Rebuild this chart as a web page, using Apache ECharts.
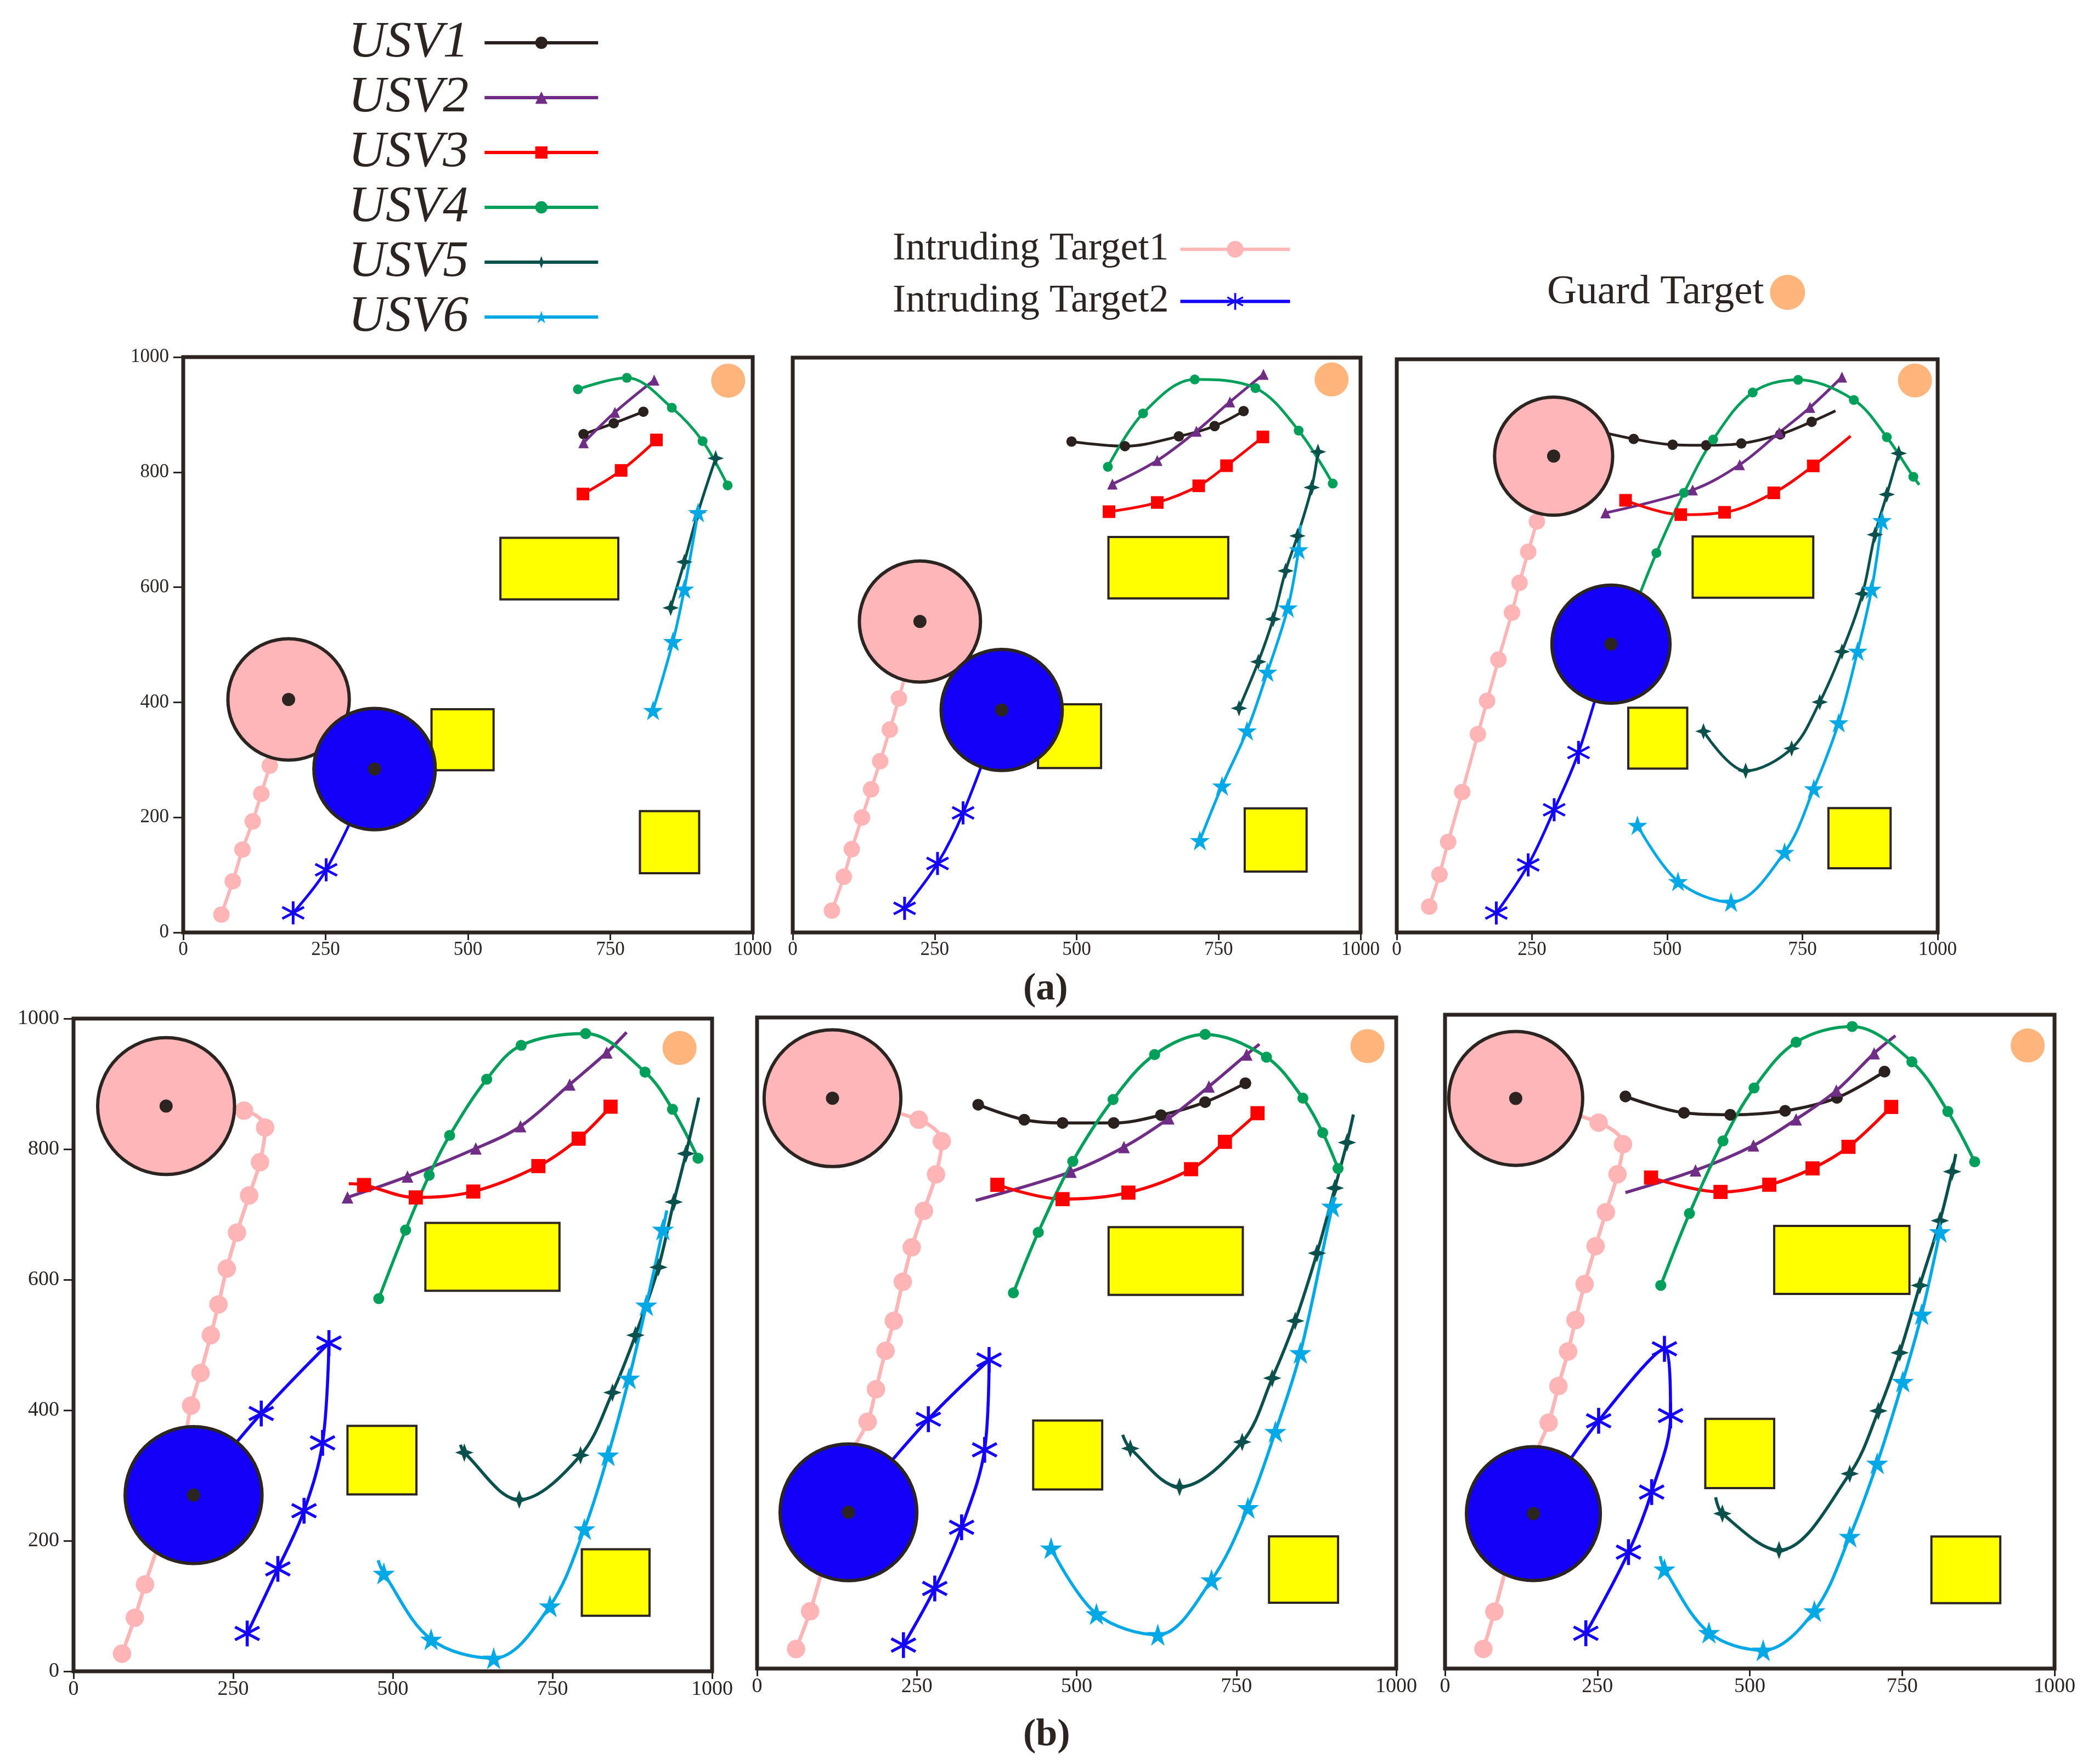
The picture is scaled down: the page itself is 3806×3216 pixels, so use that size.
<!DOCTYPE html>
<html><head><meta charset="utf-8">
<script src="https://cdn.jsdelivr.net/npm/echarts@6.0.0/dist/echarts.min.js"></script>
<style>html,body{margin:0;padding:0;background:#fff}#c{width:3806px;height:3216px}</style>
</head><body><div id="c"></div>
<script>
// ---------------- DATA ----------------
const X_TICKS = [0, 250, 500, 750, 1000];
const Y_TICKS = [0, 200, 400, 600, 800, 1000];
const USV_NAMES = ['USV1', 'USV2', 'USV3', 'USV4', 'USV5', 'USV6'];
const TARGET_NAMES = ['Intruding Target1', 'Intruding Target2'];
const GUARD_NAME = 'Guard Target';
const PANEL_LABELS = ['a', 'b'];
// a third value of 0 marks a path point drawn without a marker
// ---- panel (a) 1 ----
const a1_usv1 = [[703,866],[756,885],[808,905]];
const a1_usv2 = [[703,851],[758,904],[827,960]];
const a1_usv3 = [[702,762],[769,803],[831,856]];
const a1_usv4 = [[693,944],[779,964],[858,912],[912,854],[956,777]];
const a1_usv5 = [[856,564],[880,644],[904,730],[935,824]];
const a1_usv6 = [[825,386],[860,506],[880,597],[904,730]];
const a1_int1 = [[67,31],[87,89],[104,144],[122,193],[137,241],[152,290],[185,405,0]];
const a1_int2 = [[193,34],[251,109],[336,284,0]];
const a1_zone1 = [[185,405]];
const a1_zone2 = [[336,284]];
const a1_guard = [[957,959]];
const a1_obstacles = [[557,579,764,686],[436,282,545,388],[802,103,906,211]];
// ---- panel (a) 2 ----
const a2_usv1 = [[491,854],[585,846],[680,863],[743,881],[794,907]];
const a2_usv2 = [[563,780],[642,821],[711,872],[770,923],[829,971]];
const a2_usv3 = [[557,732],[642,748],[715,777],[764,812],[828,862]];
const a2_usv4 = [[555,810],[617,903],[708,962],[815,947],[891,873],[951,781]];
const a2_usv5 = [[786,390],[820,471],[846,545],[868,629],[889,690],[914,774],[925,836]];
const a2_usv6 = [[717,160],[756,255],[800,351],[836,453],[872,565],[891,666],[894,709,0]];
const a2_int1 = [[69,38],[90,97],[104,145],[122,200],[138,249],[154,298],[171,353],[187,407],[224,541,0]];
const a2_int2 = [[197,42],[255,120],[300,208],[368,387,0]];
const a2_zone1 = [[224,541]];
const a2_zone2 = [[368,387]];
const a2_guard = [[949,962]];
const a2_obstacles = [[556,581,767,688],[432,286,543,397],[796,106,905,216]];
// ---- panel (a) 3 ----
const a3_usv1 = [[370,875,0],[438,861],[510,851],[572,850],[637,853],[709,869],[767,891],[811,910,0]];
const a3_usv2 = [[386,732],[547,772],[634,816],[707,872],[764,916],[823,969]];
const a3_usv3 = [[423,754],[525,729],[606,733],[697,767],[770,814],[839,866,0]];
const a3_usv4 = [[445,580,0],[480,662],[531,767],[585,860],[658,942],[742,964],[845,929],[906,864],[955,795],[966,781,0]];
const a3_usv5 = [[567,351],[645,282],[730,321],[782,402],[823,490],[861,591],[884,694],[906,764],[928,836]];
const a3_usv6 = [[445,187],[520,89],[618,53],[717,140],[771,251],[817,366],[852,491],[878,599],[897,719]];
const a3_int1 = [[60,45],[79,101],[95,158],[121,245],[150,346],[167,404],[188,476],[213,558],[227,610],[243,664],[259,717],[290,831,0]];
const a3_int2 = [[184,34],[243,118],[291,214],[336,314],[396,503,0]];
const a3_zone1 = [[290,831]];
const a3_zone2 = [[396,503]];
const a3_guard = [[958,963]];
const a3_obstacles = [[547,584,770,691],[428,286,537,392],[798,112,913,217]];
// ---- panel (b) 1 ----
const b1_usv1 = [];
const b1_usv2 = [[429,726],[523,758],[630,801],[700,835],[777,899],[835,948],[866,979,0]];
const b1_usv3 = [[431,747,0],[455,745],[536,726],[626,735],[728,774],[791,816],[841,865]];
const b1_usv4 = [[478,571],[520,676],[557,760],[589,821],[647,907],[701,959],[802,977],[895,918],[938,861],[978,786]];
const b1_usv5 = [[606,347,0],[612,335],[698,263],[794,331],[844,427],[880,515],[916,619],[940,719],[959,793],[979,879,0]];
const b1_usv6 = [[477,170,0],[486,150],[560,49],[658,20],[746,100],[800,218],[837,331],[870,449],[897,561],[923,677],[929,706,0]];
const b1_int1 = [[76,27],[96,82],[112,133],[129,183,0],[146,238,0],[160,299,0],[174,354,0],[184,407],[199,457],[215,515],[227,562],[240,617],[256,672],[275,729],[292,780],[300,833],[267,859],[145,866,0]];
const b1_int2 = [[272,58],[320,157],[361,246],[390,350],[400,503],[294,395],[188,270,0]];
const b1_zone1 = [[145,866]];
const b1_zone2 = [[188,270]];
const b1_guard = [[949,955]];
const b1_obstacles = [[551,583,761,687],[429,271,537,376],[796,85,902,187]];
// ---- panel (b) 2 ----
const b2_usv1 = [[346,866],[418,843],[478,838],[558,838],[632,850],[701,870],[764,899]];
const b2_usv2 = [[342,719,0],[491,763],[574,801],[644,845],[707,894],[766,943],[786,959,0]];
const b2_usv3 = [[376,743],[478,721],[581,731],[679,767],[732,809],[783,853]];
const b2_usv4 = [[401,577],[440,670],[494,779],[557,874],[622,943],[701,974],[797,939],[854,876],[885,823],[909,768]];
const b2_usv5 = [[572,359,0],[584,338],[661,279],[759,348],[806,446],[842,534],[876,638],[904,738],[923,808],[933,851,0]];
const b2_usv6 = [[460,185],[531,84],[627,52],[711,136],[768,247],[811,364],[850,485],[900,710],[905,724,0]];
const b2_int1 = [[61,30],[83,88],[100,145,0],[117,207,0],[131,269,0],[144,324,0],[173,379],[186,429],[201,488],[214,534],[228,594],[242,647],[261,703],[280,759],[289,810],[253,843],[118,876,0]];
const b2_int2 = [[229,36],[278,123],[320,217],[356,336],[363,474],[268,383],[143,240,0]];
const b2_zone1 = [[118,876]];
const b2_zone2 = [[143,240]];
const b2_guard = [[955,956]];
const b2_obstacles = [[550,574,760,678],[432,275,540,381],[801,101,909,203]];
// ---- panel (b) 3 ----
const b3_usv1 = [[296,875],[392,850],[468,847],[558,853],[643,873],[721,913]];
const b3_usv2 = [[296,728,0],[411,762],[506,800],[576,840],[642,884],[704,941],[739,968,0]];
const b3_usv3 = [[338,751],[452,729],[532,740],[603,765],[662,798],[732,859]];
const b3_usv4 = [[354,586],[401,696],[456,807],[507,888],[576,958],[668,982],[766,928],[825,852],[869,775]];
const b3_usv5 = [[444,262,0],[455,237],[548,181],[664,298],[711,394],[746,483],[779,586],[812,685],[832,760],[838,787,0]];
const b3_usv6 = [[353,172,0],[360,152],[433,55],[522,28],[606,88],[664,202],[709,314],[751,439],[782,542],[812,668]];
const b3_int1 = [[63,30],[81,87],[97,143,0],[115,205,0],[131,267,0],[146,322,0],[170,376],[186,432],[202,485],[214,533],[229,588],[247,646],[264,698],[283,756],[292,802],[252,835],[116,872,0]];
const b3_int2 = [[231,54],[301,178],[339,270],[370,387],[360,489],[252,379],[145,237,0]];
const b3_zone1 = [[116,872]];
const b3_zone2 = [[145,237]];
const b3_guard = [[956,953]];
const b3_obstacles = [[540,573,762,677],[427,276,540,382],[798,100,911,202]];
const SAFE_RADIUS = 106;

// ---------------- STYLE / LAYOUT ----------------
const INK = '#2b2421';
const FONT = 'Liberation Serif';
const STAR4 = 'path://M0,-12L3.2,-3.2L12,0L3.2,3.2L0,12L-3.2,3.2L-12,0L-3.2,-3.2Z';
const STAR5 = 'path://M0,-10L2.245,-3.09L9.51,-3.09L3.633,1.18L5.88,8.09L0,3.82L-5.88,8.09L-3.633,1.18L-9.51,-3.09L-2.245,-3.09Z';
const ASTER = 'path://M-1.1,-10L1.1,-10L1.1,10L-1.1,10Z M-8.11,-5.95L9.21,4.05L8.11,5.95L-9.21,-4.05Z M-9.21,4.05L8.11,-5.95L9.21,-4.05L-8.11,5.95Z';
const USV_STYLE = [
  {color:'#2a211f', symbol:'circle', size:19},
  {color:'#6f2d86', symbol:'triangle', size:[19,20]},
  {color:'#ff0000', symbol:'rect', size:23},
  {color:'#00a05a', symbol:'circle', size:18},
  {color:'#0a504c', symbol:STAR4, size:30},
  {color:'#00a8e6', symbol:STAR5, size:36}
];
const TARGET_STYLE = [
  {color:'#ffb5b6', symbol:'circle', size:30, width:6, zone:'#ffb6b8'},
  {color:'#1400ff', symbol:ASTER, size:42, width:5, zone:'#1400f8'}
];
const GRIDS = [
  {left:334, top:651, width:1038, height:1049, yLabels:true, k:1, font:35},
  {left:1445, top:652, width:1035, height:1048, yLabels:false, k:1, font:35},
  {left:2546, top:655, width:986, height:1045, yLabels:false, k:1, font:35},
  {left:134, top:1857, width:1164, height:1190, yLabels:true, k:1.12, font:38},
  {left:1380, top:1855, width:1165, height:1187, yLabels:false, k:1.12, font:38},
  {left:2634, top:1850, width:1111, height:1192, yLabels:false, k:1.12, font:38}
];
const PANELS = [
  {usv:[a1_usv1,a1_usv2,a1_usv3,a1_usv4,a1_usv5,a1_usv6], tgt:[a1_int1,a1_int2], zone:[a1_zone1,a1_zone2], guard:a1_guard, obs:a1_obstacles},
  {usv:[a2_usv1,a2_usv2,a2_usv3,a2_usv4,a2_usv5,a2_usv6], tgt:[a2_int1,a2_int2], zone:[a2_zone1,a2_zone2], guard:a2_guard, obs:a2_obstacles},
  {usv:[a3_usv1,a3_usv2,a3_usv3,a3_usv4,a3_usv5,a3_usv6], tgt:[a3_int1,a3_int2], zone:[a3_zone1,a3_zone2], guard:a3_guard, obs:a3_obstacles},
  {usv:[b1_usv1,b1_usv2,b1_usv3,b1_usv4,b1_usv5,b1_usv6], tgt:[b1_int1,b1_int2], zone:[b1_zone1,b1_zone2], guard:b1_guard, obs:b1_obstacles},
  {usv:[b2_usv1,b2_usv2,b2_usv3,b2_usv4,b2_usv5,b2_usv6], tgt:[b2_int1,b2_int2], zone:[b2_zone1,b2_zone2], guard:b2_guard, obs:b2_obstacles},
  {usv:[b3_usv1,b3_usv2,b3_usv3,b3_usv4,b3_usv5,b3_usv6], tgt:[b3_int1,b3_int2], zone:[b3_zone1,b3_zone2], guard:b3_guard, obs:b3_obstacles}
];

const sizeFn = (sz, k) => (val) => (val && val.length > 2 && val[2] === 0) ? 0 : (Array.isArray(sz) ? sz.map(s => s * k) : sz * k);

const option = {
  animation: false,
  backgroundColor: '#ffffff',
  textStyle: {fontFamily: FONT},
  title: PANEL_LABELS.map((t, i) => ({
    text: '{p|(}{b|' + t + '}{p|)}',
    left: 1860, top: i === 0 ? 1764 : 3124,
    textStyle: {rich: {
      p: {fontFamily: FONT, fontSize: 70, color: INK},
      b: {fontFamily: FONT, fontSize: 70, fontWeight: 'bold', color: INK}
    }}
  })),
  legend: [
    {data: USV_NAMES, orient: 'vertical', left: 630, top: 23, align: 'right', itemGap: 0,
     itemWidth: 207, itemHeight: 28, selectedMode: false, lineStyle: {width: 6},
     textStyle: {fontFamily: FONT, fontStyle: 'italic', fontSize: 94, lineHeight: 100, color: INK, padding: [0, 24, 0, 0]}},
    {data: TARGET_NAMES, orient: 'vertical', left: 1622, top: 402, align: 'right', itemGap: 0,
     itemWidth: 200, itemHeight: 38, selectedMode: false, lineStyle: {width: 6},
     textStyle: {fontFamily: FONT, fontSize: 72, lineHeight: 95, color: INK, padding: [0, 16, 0, 0]}},
    {data: [GUARD_NAME], orient: 'vertical', left: 2815, top: 488, align: 'right',
     itemWidth: 64, itemHeight: 64, selectedMode: false,
     textStyle: {fontFamily: FONT, fontSize: 75, lineHeight: 80, color: INK, padding: [0, 6, 0, 0]}}
  ],
  grid: [], xAxis: [], yAxis: [], series: []
};

PANELS.forEach((p, i) => {
  const g = GRIDS[i];
  option.grid.push({left: g.left, top: g.top, width: g.width, height: g.height, show: true,
    borderColor: INK, borderWidth: 7, backgroundColor: '#ffffff'});
  option.xAxis.push({gridIndex: i, type: 'value', min: X_TICKS[0], max: X_TICKS[X_TICKS.length - 1],
    interval: X_TICKS[1] - X_TICKS[0], axisLine: {show: false}, splitLine: {show: false},
    axisTick: {show: true, length: 14, lineStyle: {color: INK, width: 3}},
    axisLabel: {fontFamily: FONT, fontSize: g.font, color: INK, margin: 14, formatter: v => String(v)}});
  option.yAxis.push({gridIndex: i, type: 'value', show: g.yLabels, min: Y_TICKS[0], max: Y_TICKS[Y_TICKS.length - 1],
    interval: Y_TICKS[1] - Y_TICKS[0], axisLine: {show: false}, splitLine: {show: false},
    axisTick: {show: true, length: 18, lineStyle: {color: INK, width: 3}},
    axisLabel: {fontFamily: FONT, fontSize: g.font, color: INK, margin: 26, formatter: v => String(v)}});

  // obstacles
  option.series.push({type: 'custom', xAxisIndex: i, yAxisIndex: i, data: p.obs, z: 1, silent: true,
    encode: {x: [0, 2], y: [1, 3]},
    renderItem: (params, api) => {
      const a = api.coord([api.value(0), api.value(3)]);
      const b = api.coord([api.value(2), api.value(1)]);
      return {type: 'rect', shape: {x: a[0], y: a[1], width: b[0] - a[0], height: b[1] - a[1]},
        style: {fill: '#ffff00', stroke: INK, lineWidth: 4}};
    }});

  // intruder paths
  p.tgt.forEach((d, j) => {
    const s = TARGET_STYLE[j];
    option.series.push({type: 'line', name: TARGET_NAMES[j], xAxisIndex: i, yAxisIndex: i, data: d,
      smooth: 0.35, symbol: s.symbol, symbolSize: sizeFn(s.size, g.k), z: 2, silent: true,
      itemStyle: {color: s.color}, lineStyle: {color: s.color, width: s.width * g.k}});
  });

  // USV paths
  p.usv.forEach((d, j) => {
    const s = USV_STYLE[j];
    option.series.push({type: 'line', name: USV_NAMES[j], xAxisIndex: i, yAxisIndex: i, data: d,
      smooth: 0.35, symbol: s.symbol, symbolSize: sizeFn(s.size, g.k), z: 3, silent: true,
      itemStyle: {color: s.color}, lineStyle: {color: s.color, width: 5 * g.k}});
  });

  // intruder safety zones
  p.zone.forEach((d, j) => {
    const fill = TARGET_STYLE[j].zone;
    option.series.push({type: 'custom', xAxisIndex: i, yAxisIndex: i, data: d, z: 5, silent: true,
      renderItem: (params, api) => {
        const c = api.coord([api.value(0), api.value(1)]);
        const sz = api.size([SAFE_RADIUS, SAFE_RADIUS]);
        const r = (sz[0] + sz[1]) / 2;
        return {type: 'group', children: [
          {type: 'circle', shape: {cx: c[0], cy: c[1], r: r}, style: {fill: fill, stroke: INK, lineWidth: 6}},
          {type: 'circle', shape: {cx: c[0], cy: c[1], r: 12}, style: {fill: INK}}
        ]};
      }});
  });

  // guard target
  option.series.push({type: 'scatter', name: GUARD_NAME, xAxisIndex: i, yAxisIndex: i, data: p.guard,
    symbol: 'circle', symbolSize: 62, z: 5, silent: true, itemStyle: {color: '#ffa35a'}});
});

const chart = echarts.init(document.getElementById('c'), null, {renderer: 'canvas'});
chart.setOption(option);
</script></body></html>
